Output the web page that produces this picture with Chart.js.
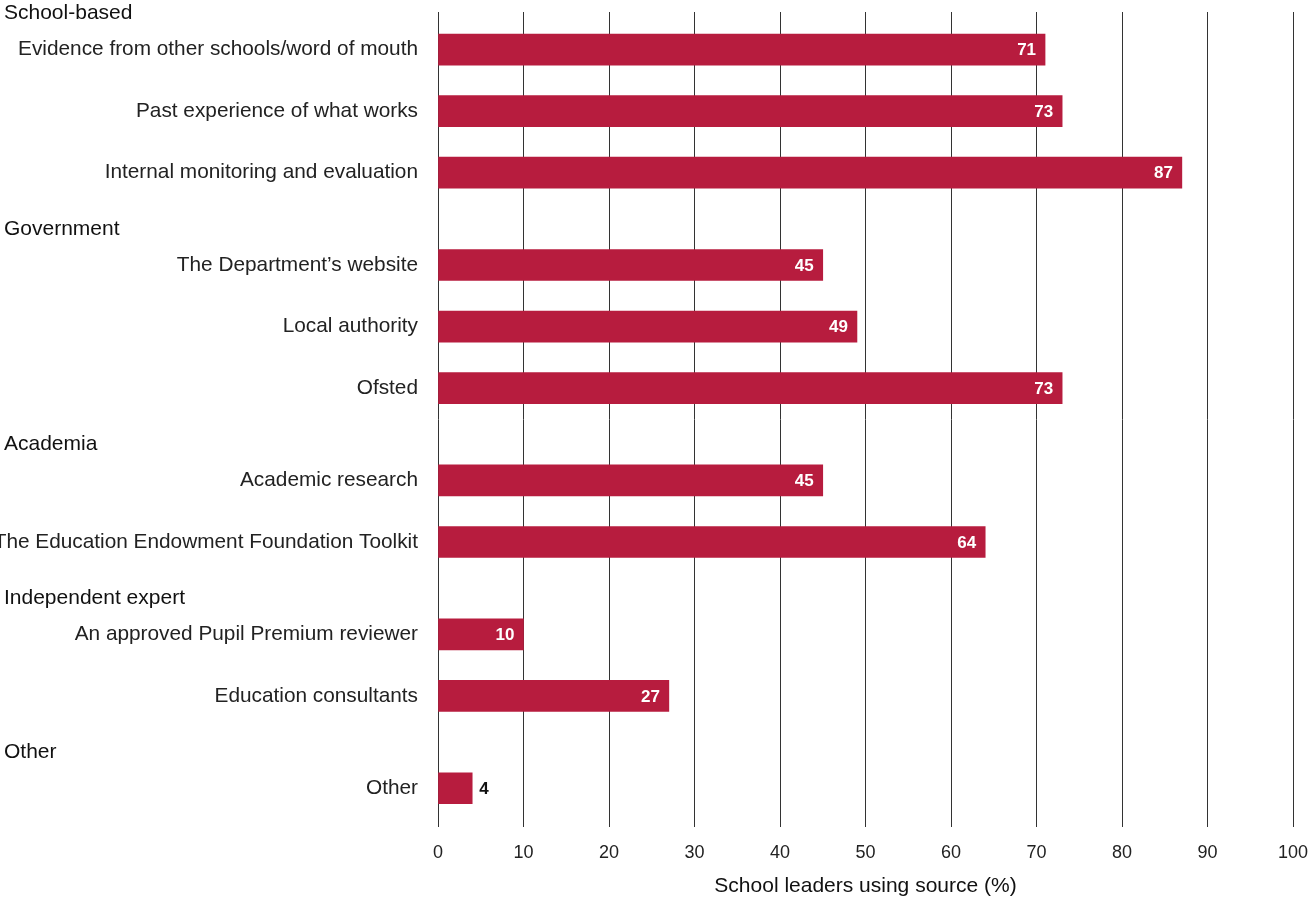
<!DOCTYPE html>
<html>
<head>
<meta charset="utf-8">
<script src="https://cdn.jsdelivr.net/npm/chart.js@4"></script>
<style>
  html, body { margin: 0; padding: 0; background: #fff; }
  #wrap { width: 1309px; height: 899px; position: relative; }
</style>
</head>
<body>
<div id="wrap"><canvas id="chart"></canvas></div>
<script>
// Source groups and how many sources each group holds
const groups = ['School-based', 'Government', 'Academia', 'Independent expert', 'Other'];
const groupSizes = [3, 3, 2, 2, 1];

// Individual sources, in display order
const sources = [
  'Evidence from other schools/word of mouth',
  'Past experience of what works',
  'Internal monitoring and evaluation',
  'The Department\u2019s website',
  'Local authority',
  'Ofsted',
  'Academic research',
  'The Education Endowment Foundation Toolkit',
  'An approved Pupil Premium reviewer',
  'Education consultants',
  'Other'
];

// Share of school leaders using each source (%)
const shares = [71, 73, 87, 45, 49, 73, 45, 64, 10, 27, 4];

// Row positions: one unit per source, an extra half unit before each new group
const rowPos = [];
const headerPos = [];
(function () {
  let cursor = 0;
  groupSizes.forEach((n, g) => {
    if (g > 0) cursor += 0.5;
    headerPos.push(cursor - 0.6);
    for (let k = 0; k < n; k++) { rowPos.push(cursor); cursor += 1; }
  });
})();
const Y_MIN = -0.61;
const Y_MAX = 12.63;

const FONT = '"Liberation Sans", Arial, sans-serif';
const BAR = '#B71C3E';

// Group headings, left-aligned in the label column
const groupHeaders = {
  id: 'groupHeaders',
  afterDraw(chart) {
    const ctx = chart.ctx;
    const y = chart.scales.y;
    ctx.save();
    ctx.font = '21px ' + FONT;
    ctx.fillStyle = '#111';
    ctx.textAlign = 'left';
    ctx.textBaseline = 'middle';
    groups.forEach((g, i) => ctx.fillText(g, 4, y.getPixelForValue(headerPos[i]) + 1));
    ctx.restore();
  }
};

// Percentages at the end of each bar (outside when the bar is too short)
const valueLabels = {
  id: 'valueLabels',
  afterDatasetsDraw(chart) {
    const ctx = chart.ctx;
    const meta = chart.getDatasetMeta(0);
    ctx.save();
    ctx.font = 'bold 17px ' + FONT;
    ctx.textBaseline = 'middle';
    meta.data.forEach((bar, i) => {
      const v = shares[i];
      const txt = String(v);
      if (v >= 8) {
        ctx.fillStyle = '#fff';
        ctx.textAlign = 'right';
        ctx.fillText(txt, bar.x - 9, bar.y + 1);
      } else {
        ctx.fillStyle = '#111';
        ctx.textAlign = 'left';
        ctx.fillText(txt, bar.x + 7, bar.y + 1);
      }
    });
    ctx.restore();
  }
};

new Chart(document.getElementById('chart'), {
  type: 'bar',
  data: {
    datasets: [{
      data: shares.map((v, i) => ({ x: v, y: rowPos[i] })),
      backgroundColor: BAR,
      borderWidth: 0,
      barThickness: 31
    }]
  },
  options: {
    indexAxis: 'y',
    responsive: true,
    maintainAspectRatio: false,
    animation: false,
    layout: { padding: { top: 12, right: 16, bottom: 0, left: 0 } },
    plugins: { legend: { display: false }, tooltip: { enabled: false } },
    scales: {
      x: {
        type: 'linear',
        min: 0,
        max: 100,
        ticks: { stepSize: 10, padding: 15, color: '#222', font: { family: FONT, size: 18 } },
        grid: { color: '#333', lineWidth: 1, drawTicks: false },
        border: { display: false },
        title: {
          display: true,
          text: 'School leaders using source (%)',
          color: '#111',
          font: { family: FONT, size: 21 },
          padding: { top: 10, bottom: 0 }
        },
        afterFit(scale) {
          scale.height = 72;
          scale.paddingLeft = 0;
          scale.paddingRight = 0;
        }
      },
      y: {
        type: 'linear',
        reverse: true,
        offset: false,
        bounds: 'data',
        afterDataLimits(scale) { scale.min = Y_MIN; scale.max = Y_MAX; },
        afterBuildTicks(scale) {
          scale.ticks = rowPos.map(v => ({ value: v }));
          scale.min = Y_MIN;
          scale.max = Y_MAX;
        },
        ticks: {
          autoSkip: false,
          padding: 20,
          color: '#222',
          font: { family: FONT, size: 20.8 },
          callback: (value, index) => sources[index]
        },
        grid: { display: false, drawTicks: false },
        border: { display: false },
        afterFit(scale) {
          scale.width = 438;
          scale.paddingTop = 0;
          scale.paddingBottom = 0;
        }
      }
    }
  },
  plugins: [groupHeaders, valueLabels]
});
</script>
</body>
</html>
